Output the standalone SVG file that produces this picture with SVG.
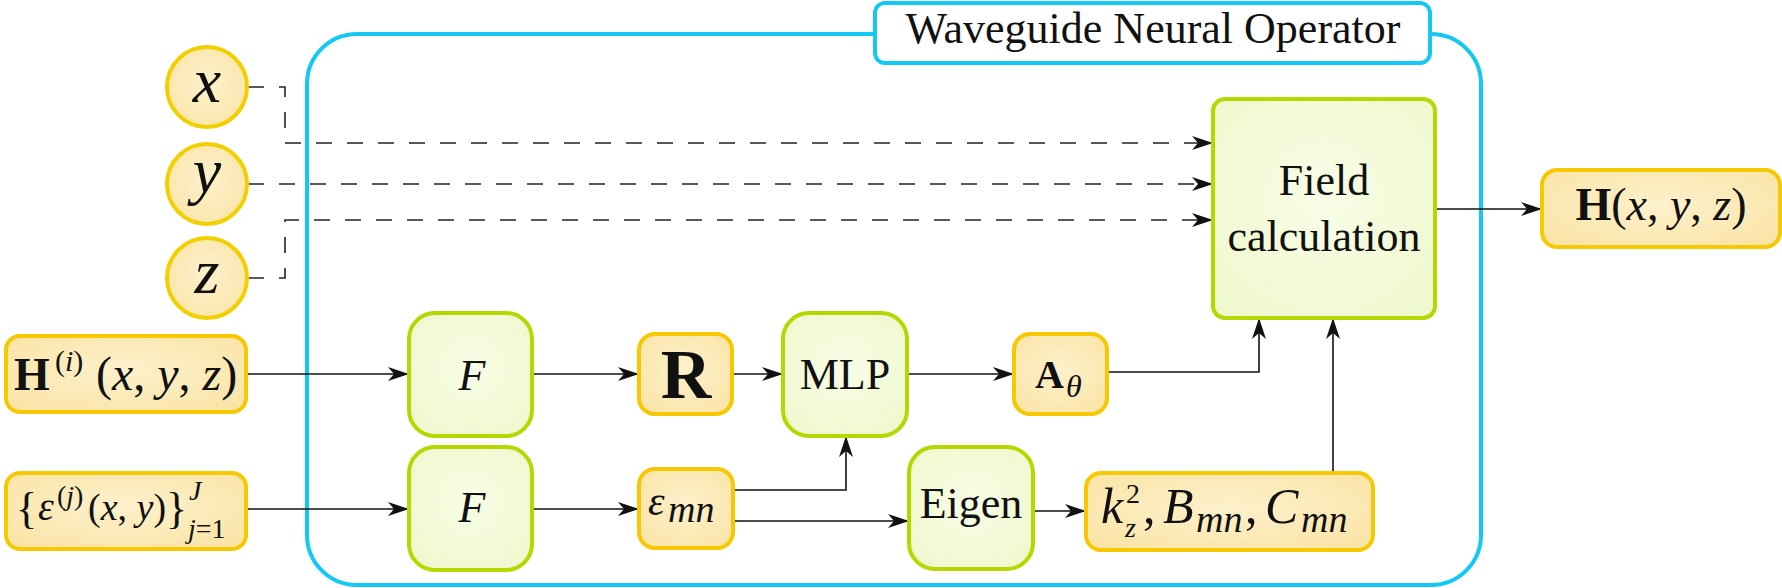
<svg xmlns="http://www.w3.org/2000/svg" width="1782" height="588" viewBox="0 0 1782 588">
<defs>
<radialGradient id="gy" cx="50%" cy="45%" r="70%">
<stop offset="0" stop-color="#fdf1cc"/>
<stop offset="1" stop-color="#fae3a4"/>
</radialGradient>
<radialGradient id="gg" cx="50%" cy="45%" r="70%">
<stop offset="0" stop-color="#f8fde6"/>
<stop offset="1" stop-color="#eef8cc"/>
</radialGradient>
<marker id="ah" markerUnits="userSpaceOnUse" markerWidth="22" markerHeight="14" refX="21" refY="7" orient="auto">
<path d="M0,0 L21,7 L0,14 L6,7 z" fill="#111"/>
</marker>
</defs>
<style>
text{font-family:"Liberation Serif","Times New Roman",serif;fill:#111;}
.ybox{fill:url(#gy);stroke:#f5c800;stroke-width:4;}
.ycirc{fill:url(#gy);stroke:#f2cf00;stroke-width:4;}
.gbox{fill:url(#gg);stroke:#b6d700;stroke-width:4;}
.blue{fill:none;stroke:#14c8f4;stroke-width:4;}
.title{fill:#fff;stroke:#14c8f4;stroke-width:4;}
.conn{fill:none;stroke:#111;stroke-width:1.6;marker-end:url(#ah);}
.dash{fill:none;stroke:#222;stroke-width:1.6;stroke-dasharray:16 15;marker-end:url(#ah);}
.it{font-style:italic;}
.bf{font-weight:bold;}
</style>

<g id="operator">
<rect class="blue" x="307" y="34" width="1174" height="551" rx="50"/>
<rect class="title" x="875" y="3" width="555" height="60" rx="10"/>
<text x="1153" y="43" font-size="44" text-anchor="middle">Waveguide Neural Operator</text>
</g>

<g id="connectors">
<path class="dash" d="M248,87 H285 V143 H1213"/>
<path class="dash" d="M248,184 H1213"/>
<path class="dash" d="M248,278 H285 V220 H1213"/>
<path class="conn" d="M246,374 H409"/>
<path class="conn" d="M532,374 H639"/>
<path class="conn" d="M732,374 H783"/>
<path class="conn" d="M907,374 H1014"/>
<path class="conn" d="M1107,372 H1259 V318"/>
<path class="conn" d="M246,509 H409"/>
<path class="conn" d="M532,509 H639"/>
<path class="conn" d="M733,490 H846 V436"/>
<path class="conn" d="M733,521 H909"/>
<path class="conn" d="M1033,511 H1086"/>
<path class="conn" d="M1333,473 V318"/>
<path class="conn" d="M1435,209 H1542"/>
</g>

<g id="in-x">
<circle class="ycirc" cx="207" cy="87" r="40"/>
<text x="207" y="102" font-size="64" class="it" text-anchor="middle">x</text>
</g>
<g id="in-y">
<circle class="ycirc" cx="207" cy="184" r="40"/>
<text x="207" y="192" font-size="64" class="it" text-anchor="middle">y</text>
</g>
<g id="in-z">
<circle class="ycirc" cx="207" cy="278" r="40"/>
<text x="207" y="293" font-size="64" class="it" text-anchor="middle">z</text>
</g>

<g id="in-H">
<rect class="ybox" x="6" y="336" width="240" height="76" rx="14"/>
<text x="14" y="390" font-size="46" class="bf">H</text>
<text x="55" y="371" font-size="30">(<tspan class="it">i</tspan>)</text>
<text x="96" y="390" font-size="48">(<tspan class="it">x</tspan>, <tspan class="it">y</tspan>, <tspan class="it">z</tspan>)</text>
</g>

<g id="in-eps">
<rect class="ybox" x="6" y="473" width="240" height="76" rx="14"/>
<text x="16" y="523" font-size="44">{</text>
<text x="38" y="520" font-size="40" class="it">ε</text>
<text x="57" y="505" font-size="28">(<tspan class="it">j</tspan>)</text>
<text x="88" y="520" font-size="38">(<tspan class="it">x</tspan>, <tspan class="it">y</tspan>)</text>
<text x="166" y="523" font-size="44">}</text>
<text x="189" y="500" font-size="28" class="it">J</text>
<text x="188" y="538" font-size="28"><tspan class="it">j</tspan>=1</text>
</g>

<g id="F1">
<rect class="gbox" x="409" y="313" width="123" height="123" rx="26"/>
<text x="472" y="390" font-size="44" class="it" text-anchor="middle">F</text>
</g>
<g id="F2">
<rect class="gbox" x="409" y="447" width="123" height="123" rx="26"/>
<text x="472" y="522" font-size="44" class="it" text-anchor="middle">F</text>
</g>

<g id="R">
<rect class="ybox" x="639" y="334" width="93" height="80" rx="16"/>
<text x="686" y="398" font-size="70" class="bf" text-anchor="middle">R</text>
</g>

<g id="MLP">
<rect class="gbox" x="783" y="313" width="124" height="123" rx="26"/>
<text x="845" y="389" font-size="44" text-anchor="middle">MLP</text>
</g>

<g id="A">
<rect class="ybox" x="1014" y="334" width="93" height="80" rx="16"/>
<text x="1035" y="388" font-size="40" class="bf">A</text>
<text x="1066" y="397" font-size="32" class="it">θ</text>
</g>

<g id="emn">
<rect class="ybox" x="639" y="469" width="94" height="79" rx="16"/>
<text x="648" y="515" font-size="42" class="it">ε</text>
<text x="668" y="522" font-size="38" class="it">mn</text>
</g>

<g id="Eigen">
<rect class="gbox" x="909" y="447" width="124" height="122" rx="26"/>
<text x="971" y="518" font-size="44" text-anchor="middle">Eigen</text>
</g>

<g id="K">
<rect class="ybox" x="1086" y="473" width="287" height="77" rx="15"/>
<text x="1101" y="523" font-size="50" class="it">k</text>
<text x="1126" y="503" font-size="28">2</text>
<text x="1125" y="537" font-size="28" class="it">z</text>
<text x="1143" y="523" font-size="50">,</text>
<text x="1163" y="523" font-size="50" class="it">B</text>
<text x="1196" y="532" font-size="38" class="it">mn</text>
<text x="1245" y="523" font-size="50">,</text>
<text x="1265" y="523" font-size="50" class="it">C</text>
<text x="1301" y="532" font-size="38" class="it">mn</text>
</g>

<g id="Field">
<rect class="gbox" x="1213" y="99" width="222" height="219" rx="12"/>
<text x="1324" y="195" font-size="44" text-anchor="middle">Field</text>
<text x="1324" y="251" font-size="44" text-anchor="middle">calculation</text>
</g>

<g id="out-H">
<rect class="ybox" x="1542" y="170" width="238" height="77" rx="15"/>
<text x="1661" y="220" font-size="46" text-anchor="middle"><tspan class="bf">H</tspan>(<tspan class="it">x</tspan>, <tspan class="it">y</tspan>, <tspan class="it">z</tspan>)</text>
</g>
</svg>
